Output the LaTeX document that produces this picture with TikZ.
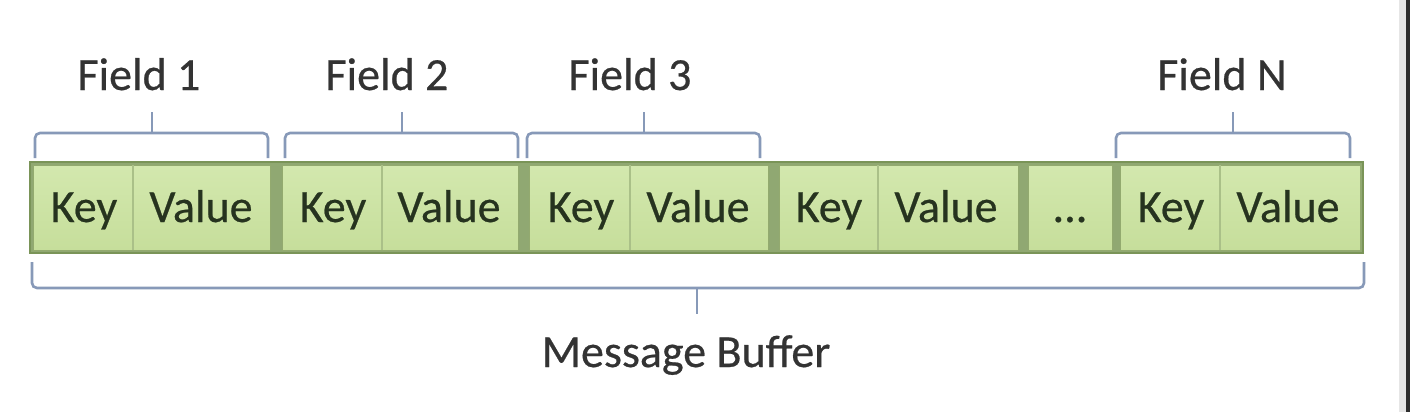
\documentclass[tikz,border=0pt]{standalone}
\usepackage{fontspec}
\newfontfamily\diagfont[FakeBold=0.5]{Carlito}
\usetikzlibrary{calc}
\definecolor{bargreen}{HTML}{90A872}
\definecolor{barline}{HTML}{7A9458}
\definecolor{celltop}{HTML}{D3E8AE}
\definecolor{cellmid}{HTML}{EDF8DB}
\definecolor{cellbot}{HTML}{C6DE9B}
\definecolor{cellline}{HTML}{93AA6F}
\definecolor{divline}{HTML}{AAC088}
\definecolor{brace}{HTML}{8799B8}
\definecolor{celltext}{HTML}{26331F}
\definecolor{labeltext}{HTML}{333333}
\definecolor{edgegray}{HTML}{E6E6E6}
\definecolor{edgedark}{HTML}{2E2E2E}
\begin{document}
\begin{tikzpicture}[x=1pt,y=-1pt,
  barbox/.style={rectangle,draw=barline,fill=bargreen,line width=1.2pt,inner sep=0pt,outer sep=0pt,minimum height=91pt},
  fieldbox/.style={rectangle,draw=cellline,line width=0.8pt,inner sep=0pt,outer sep=0pt,minimum height=85pt,
    top color=celltop,middle color=cellmid,bottom color=cellbot},
  divider/.style={draw=divline,line width=1.2pt},
  celltxt/.style={anchor=base,inner sep=0pt,text=celltext,font=\diagfont\fontsize{46}{52}\selectfont},
  labeltxt/.style={anchor=base,inner sep=0pt,text=labeltext,font=\diagfont\fontsize{46}{52}\selectfont},
  bracket/.style={draw=brace,line width=2.6pt,rounded corners=5pt},
  bracetick/.style={draw=brace,line width=2pt}]
\useasboundingbox (0,0) rectangle (1410,412);
\fill[white] (0,0) rectangle (1410,412);
\fill[edgegray] (1399,0) rectangle (1406,412);
\fill[edgedark] (1406,0) rectangle (1410,412);

% bar and fields
\node[barbox,minimum width=1333pt] (bar) at (696.5,207.5) {};
\node[fieldbox,minimum width=237pt] (f1) at (151.5,207.5) {};
\node[fieldbox,minimum width=236pt] (f2) at (400,207.5) {};
\node[fieldbox,minimum width=239pt] (f3) at (648.5,207.5) {};
\node[fieldbox,minimum width=239pt] (f4) at (898.5,207.5) {};
\node[fieldbox,minimum width=84pt] (fd) at (1070,207.5) {};
\node[fieldbox,minimum width=240pt] (fn) at (1240,207.5) {};

% key/value dividers
\draw[divider] (133,165) -- (133,250);
\draw[divider] (382,165) -- (382,250);
\draw[divider] (630,165) -- (630,250);
\draw[divider] (878,165) -- (878,250);
\draw[divider] (1220,165) -- (1220,250);

% cell texts
\node[celltxt] (k1) at (84,222) {Key};
\node[celltxt] (v1) at (201,222) {Value};
\node[celltxt] (k2) at (333,222) {Key};
\node[celltxt] (v2) at (449,222) {Value};
\node[celltxt] (k3) at (581,222) {Key};
\node[celltxt] (v3) at (698,222) {Value};
\node[celltxt] (k4) at (829,222) {Key};
\node[celltxt] (v4) at (946,222) {Value};
\node[celltxt] (dots) at (1070,222) {...};
\node[celltxt] (kn) at (1171,222) {Key};
\node[celltxt] (vn) at (1288,222) {Value};

% top brackets
\coordinate (b1) at (151.5,133);
\coordinate (b2) at (401.5,133);
\coordinate (b3) at (643.5,133);
\coordinate (bn) at (1233,133);
\draw[bracket] (35,158) |- (b1) -| (268,158);
\draw[bracket] (285,158) |- (b2) -| (518,158);
\draw[bracket] (527,158) |- (b3) -| (760,158);
\draw[bracket] (1116,158) |- (bn) -| (1350,158);
\draw[bracetick] (b1) -- ++(0,-21);
\draw[bracetick] (b2) -- ++(0,-21);
\draw[bracetick] (b3) -- ++(0,-21);
\draw[bracetick] (bn) -- ++(0,-21);

\node[labeltxt] (l1) at (139,90) {Field 1};
\node[labeltxt] (l2) at (387,90) {Field 2};
\node[labeltxt] (l3) at (630,90) {Field 3};
\node[labeltxt] (ln) at (1222,90) {Field N};

% bottom bracket
\coordinate (bb) at (697,288);
\draw[bracket] (32,262) |- (bb) -| (1364,262);
\draw[bracetick] (bb) -- ++(0,26);
\node[labeltxt] (mb) at (686,367) {Message Buffer};
\end{tikzpicture}
\end{document}
